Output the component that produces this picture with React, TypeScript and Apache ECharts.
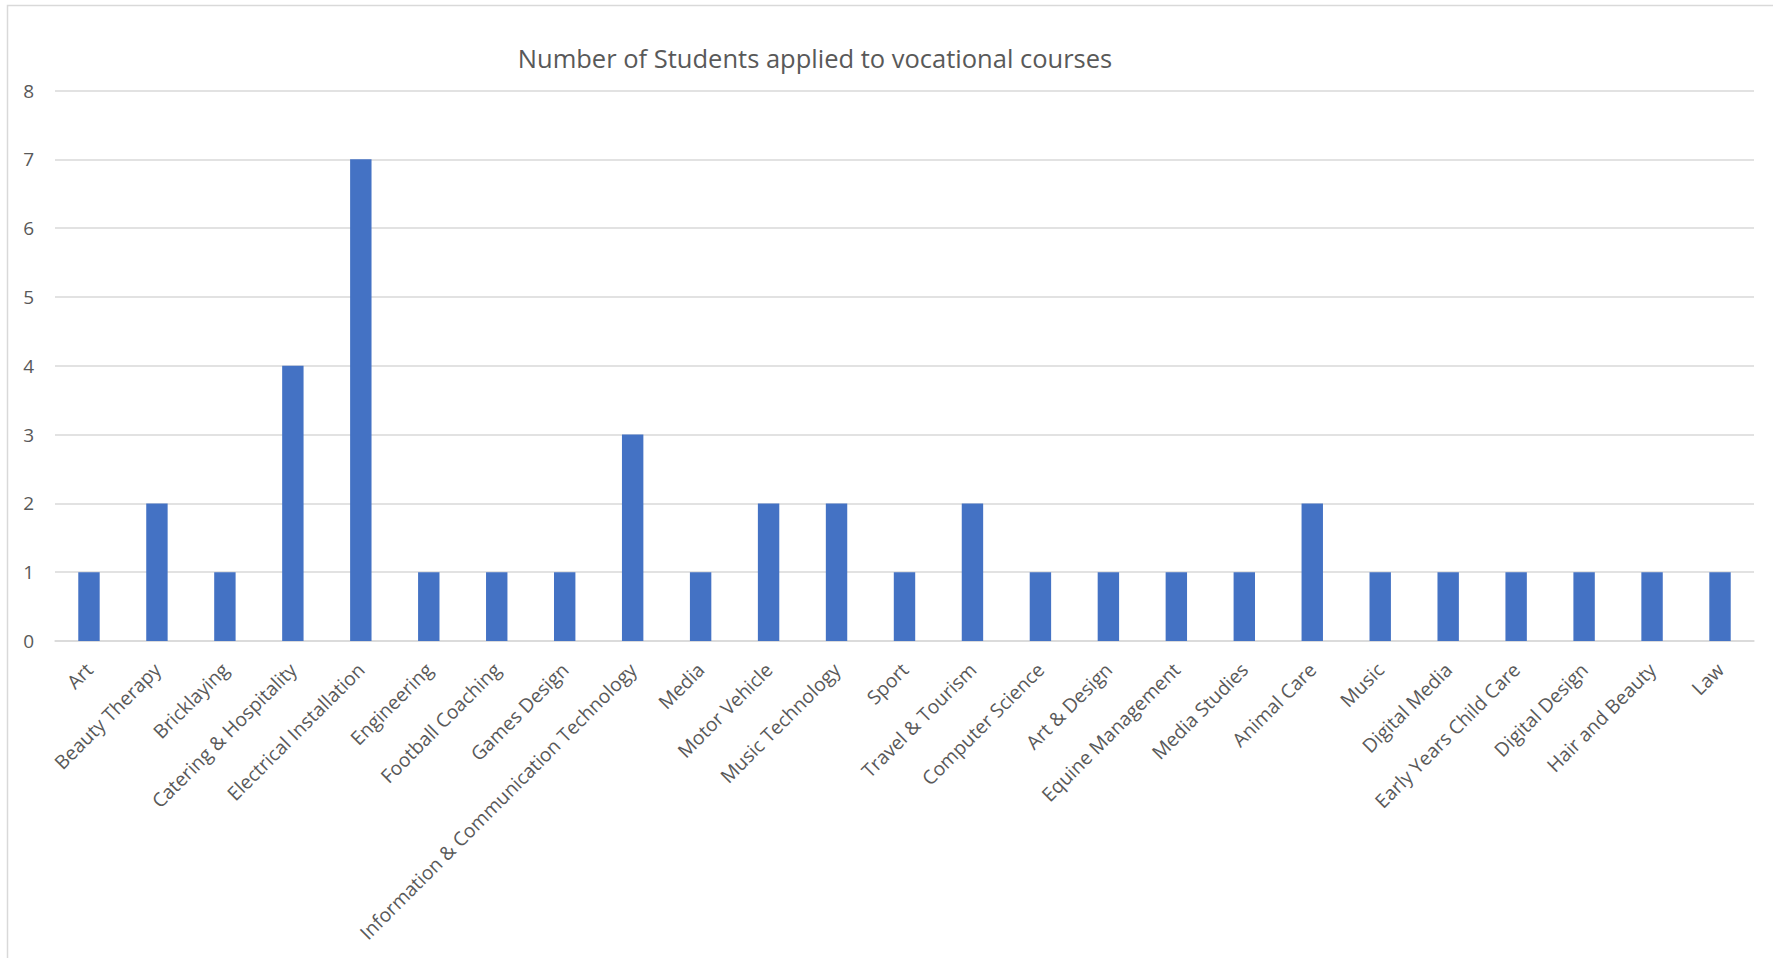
import React, { useEffect, useRef } from "react";
import * as echarts from "echarts";

const title = "Number of Students applied to vocational courses";
const categories = [
  "Art",
  "Beauty Therapy",
  "Bricklaying",
  "Catering & Hospitality",
  "Electrical Installation",
  "Engineering",
  "Football Coaching",
  "Games Design",
  "Information & Communication Technology",
  "Media",
  "Motor Vehicle",
  "Music Technology",
  "Sport",
  "Travel & Tourism",
  "Computer Science",
  "Art & Design",
  "Equine Management",
  "Media Studies",
  "Animal Care",
  "Music",
  "Digital Media",
  "Early Years Child Care",
  "Digital Design",
  "Hair and Beauty",
  "Law",
];
const students = [1, 2, 1, 4, 7, 1, 1, 1, 3, 1, 2, 2, 1, 2, 1, 1, 1, 1, 2, 1, 1, 1, 1, 1, 1];
const yMin = 0;
const yMax = 8;
const yStep = 1;

export default function App() {
  const ref = useRef<HTMLDivElement>(null);
  useEffect(() => {
    if (!ref.current) return;
    const chart = echarts.init(ref.current, undefined, { renderer: "svg" });
    const font = "'Open Sans', 'Noto Sans', sans-serif";
    chart.setOption({
      animation: false,
      backgroundColor: "#ffffff",
      title: {
        text: title,
        left: 810,
        top: 40,
        textAlign: "center",
        textStyle: { fontFamily: font, fontSize: 25.5, fontWeight: "normal", color: "#595959" },
      },
      graphic: [
        {
          type: "rect",
          shape: { x: 7.5, y: 5.5, width: 1800, height: 1000 },
          style: { fill: "none", stroke: "#D9D9D9", lineWidth: 1.5 },
          silent: true,
        },
      ],
      grid: { left: 55, right: 19, top: 90.5, bottom: 317, containLabel: false },
      xAxis: {
        type: "category",
        data: categories,
        axisLine: { show: true, lineStyle: { color: "#D9D9D9", width: 1.5 } },
        axisTick: { show: false },
        axisLabel: {
          rotate: 45,
          interval: 0,
          margin: 25,
          fontFamily: font,
          fontSize: 19.3,
          color: "#595959",
        },
      },
      yAxis: {
        type: "value",
        min: yMin,
        max: yMax,
        interval: yStep,
        axisLine: { show: false },
        axisTick: { show: false },
        axisLabel: { margin: 21, fontFamily: font, fontSize: 19, color: "#595959" },
        splitLine: { lineStyle: { color: "#D9D9D9", width: 1.5 } },
      },
      series: [
        {
          type: "bar",
          data: students,
          barWidth: "31.5%",
          itemStyle: { color: "#4472C4" },
        },
      ],
    });
    return () => chart.dispose();
  }, []);
  return (
    <div
      ref={ref}
      style={{ position: "fixed", left: 0, top: 0, width: 1773, height: 958, background: "#fff" }}
    />
  );
}
